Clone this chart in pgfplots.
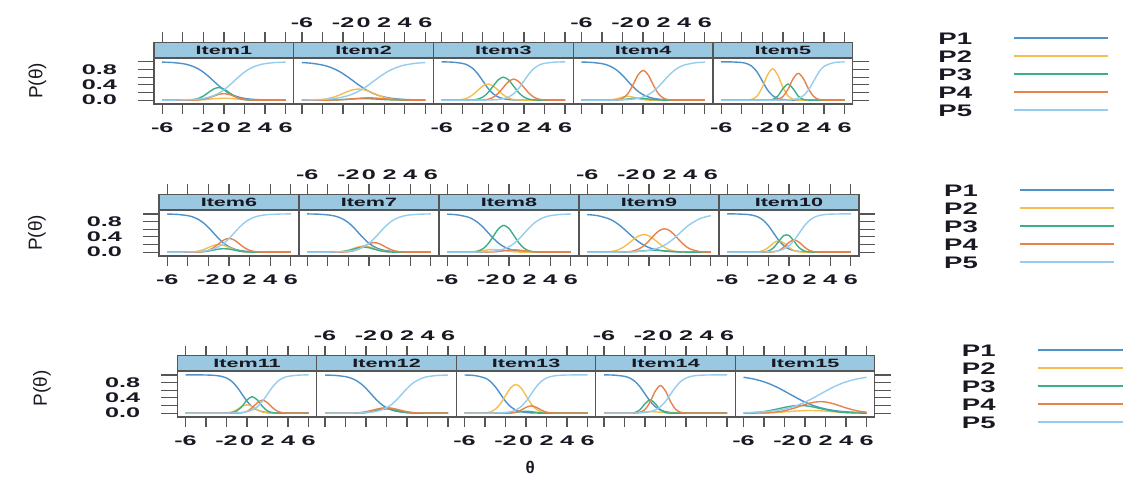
\documentclass[border=0pt]{standalone}
\usepackage{fontspec}
\setmainfont{Liberation Sans}
\usepackage{graphicx}
\usepackage{pgfplots}
\usepackage{pgfplotstable}
\pgfplotsset{compat=1.18}
\definecolor{c1}{RGB}{80,145,200}
\definecolor{c2}{RGB}{245,190,80}
\definecolor{c3}{RGB}{60,175,135}
\definecolor{c4}{RGB}{230,130,75}
\definecolor{c5}{RGB}{150,205,238}
\definecolor{stripcol}{RGB}{155,200,225}
\definecolor{axcol}{RGB}{85,85,85}
\definecolor{txtcol}{RGB}{25,25,35}
\newcommand\sx[1]{\scalebox{1.8}[1]{#1}}
\newcommand\lx[1]{\scalebox{1.65}[1]{#1}}
\newcommand\tfont{\fontsize{14}{15}\selectfont\bfseries}
\newcommand\sfont{\fontsize{12}{13}\selectfont\bfseries}
\newcommand\lfont{\fontsize{16.7}{18}\selectfont\bfseries}
\newcommand\yfont{\fontsize{19}{20}\selectfont}
\newcommand\xfont{\fontsize{17}{18}\selectfont\bfseries}

\pgfplotstableread{
t a b c d e
-6 0.993 0 0 0 0.001
-5 0.982 0 0 0 0.002
-4 0.953 0 0.001 0 0.007
-3.5 0.924 0.001 0.004 0.001 0.011
-3 0.881 0.003 0.015 0.002 0.018
-2.5 0.818 0.007 0.045 0.007 0.029
-2 0.731 0.014 0.107 0.023 0.047
-1.5 0.622 0.024 0.200 0.055 0.076
-1 0.5 0.036 0.291 0.103 0.119
-0.5 0.378 0.046 0.33 0.150 0.182
0 0.269 0.05 0.291 0.17 0.269
0.5 0.182 0.046 0.200 0.150 0.378
1 0.119 0.036 0.107 0.103 0.5
1.5 0.076 0.024 0.045 0.055 0.622
2 0.047 0.014 0.015 0.023 0.731
2.5 0.029 0.007 0.004 0.007 0.818
3 0.018 0.003 0.001 0.002 0.881
3.5 0.011 0.001 0 0.001 0.924
4 0.007 0 0 0 0.953
5 0.002 0 0 0 0.982
6 0.001 0 0 0 0.993
}\itA
\pgfplotstableread{
t a b c d e
-6 0.982 0 0 0 0.004
-5 0.961 0.003 0 0 0.008
-4 0.917 0.019 0.001 0.001 0.018
-3.5 0.881 0.039 0.003 0.002 0.027
-3 0.832 0.072 0.005 0.004 0.039
-2.5 0.769 0.119 0.010 0.008 0.057
-2 0.690 0.176 0.016 0.015 0.083
-1.5 0.599 0.232 0.024 0.025 0.119
-1 0.5 0.274 0.032 0.036 0.168
-0.5 0.401 0.29 0.038 0.048 0.231
0 0.310 0.274 0.04 0.057 0.310
0.5 0.231 0.232 0.038 0.06 0.401
1 0.168 0.176 0.032 0.057 0.5
1.5 0.119 0.119 0.024 0.048 0.599
2 0.083 0.072 0.016 0.036 0.690
2.5 0.057 0.039 0.010 0.025 0.769
3 0.039 0.019 0.005 0.015 0.832
3.5 0.027 0.008 0.003 0.008 0.881
4 0.018 0.003 0.001 0.004 0.917
5 0.008 0 0 0.001 0.961
6 0.004 0 0 0 0.982
}\itB
\pgfplotstableread{
t a b c d e
-6 1.0 0 0 0 0
-5 0.992 0.001 0 0 0
-4 0.961 0.018 0 0 0
-3.5 0.917 0.057 0.001 0 0
-3 0.832 0.137 0.007 0 0
-2.5 0.690 0.255 0.026 0.001 0
-2 0.5 0.370 0.081 0.006 0.002
-1.5 0.310 0.42 0.195 0.024 0.004
-1 0.168 0.370 0.364 0.074 0.008
-0.5 0.083 0.255 0.529 0.179 0.018
0 0.039 0.137 0.6 0.334 0.039
0.5 0.018 0.057 0.529 0.485 0.083
1 0.008 0.018 0.364 0.55 0.168
1.5 0.004 0.005 0.195 0.485 0.310
2 0.002 0.001 0.081 0.334 0.5
2.5 0 0 0.026 0.179 0.690
3 0 0 0.007 0.074 0.832
3.5 0 0 0.001 0.024 0.917
4 0 0 0 0.006 0.961
5 0 0 0 0 0.992
6 0 0 0 0 1.0
}\itC
\pgfplotstableread{
t a b c d e
-6 0.995 0 0 0 0
-5 0.985 0 0 0 0
-4 0.953 0 0 0 0.001
-3.5 0.917 0.003 0.001 0 0.001
-3 0.858 0.014 0.002 0.002 0.002
-2.5 0.769 0.041 0.007 0.010 0.004
-2 0.646 0.080 0.016 0.049 0.008
-1.5 0.5 0.10 0.030 0.165 0.015
-1 0.354 0.080 0.044 0.391 0.027
-0.5 0.231 0.041 0.05 0.656 0.047
0 0.142 0.014 0.044 0.78 0.083
0.5 0.083 0.003 0.030 0.656 0.142
1 0.047 0 0.016 0.391 0.231
1.5 0.027 0 0.007 0.165 0.354
2 0.015 0 0.002 0.049 0.5
2.5 0.008 0 0.001 0.010 0.646
3 0.004 0 0 0.002 0.769
3.5 0.002 0 0 0 0.858
4 0.001 0 0 0 0.917
5 0 0 0 0 0.973
6 0 0 0 0 0.992
}\itD
\pgfplotstableread{
t a b c d e
-6 1.0 0 0 0 0
-5 0.998 0 0 0 0
-4 0.982 0 0 0 0
-3.5 0.953 0.003 0 0 0
-3 0.881 0.024 0 0 0
-2.5 0.731 0.111 0 0 0
-2 0.5 0.337 0 0 0
-1.5 0.269 0.657 0.002 0 0
-1 0.119 0.82 0.018 0.003 0
-0.5 0.047 0.657 0.105 0.020 0
0 0.018 0.337 0.297 0.095 0.002
0.5 0.007 0.111 0.42 0.288 0.007
1 0.002 0.024 0.297 0.561 0.018
1.5 0 0.003 0.105 0.70 0.047
2 0 0 0.018 0.561 0.119
2.5 0 0 0.002 0.288 0.269
3 0 0 0 0.095 0.5
3.5 0 0 0 0.020 0.731
4 0 0 0 0.003 0.881
5 0 0 0 0 0.982
6 0 0 0 0 0.998
}\itE
\pgfplotstableread{
t a b c d e
-6 0.995 0 0 0 0
-5 0.985 0 0 0 0.001
-4 0.953 0.002 0 0 0.005
-3.5 0.917 0.009 0.001 0.001 0.008
-3 0.858 0.027 0.004 0.004 0.015
-2.5 0.769 0.065 0.012 0.016 0.027
-2 0.646 0.121 0.029 0.049 0.047
-1.5 0.5 0.176 0.055 0.117 0.083
-1 0.354 0.2 0.080 0.219 0.142
-0.5 0.231 0.176 0.09 0.318 0.231
0 0.142 0.121 0.080 0.36 0.354
0.5 0.083 0.065 0.055 0.318 0.5
1 0.047 0.027 0.029 0.219 0.646
1.5 0.027 0.009 0.012 0.117 0.769
2 0.015 0.002 0.004 0.049 0.858
2.5 0.008 0 0.001 0.016 0.917
3 0.004 0 0 0.004 0.953
3.5 0.002 0 0 0.001 0.973
4 0.001 0 0 0 0.985
5 0 0 0 0 0.995
6 0 0 0 0 0.999
}\itF
\pgfplotstableread{
t a b c d e
-6 0.998 0 0 0 0
-5 0.992 0 0 0 0
-4 0.973 0 0 0 0.002
-3.5 0.953 0.002 0.001 0 0.004
-3 0.917 0.007 0.006 0.001 0.008
-2.5 0.858 0.022 0.018 0.003 0.015
-2 0.769 0.052 0.042 0.011 0.027
-1.5 0.646 0.097 0.079 0.034 0.047
-1 0.5 0.141 0.115 0.081 0.083
-0.5 0.354 0.16 0.13 0.152 0.142
0 0.231 0.141 0.115 0.221 0.231
0.5 0.142 0.097 0.079 0.25 0.354
1 0.083 0.052 0.042 0.221 0.5
1.5 0.047 0.022 0.018 0.152 0.646
2 0.027 0.007 0.006 0.081 0.769
2.5 0.015 0.002 0.001 0.034 0.858
3 0.008 0 0 0.011 0.917
3.5 0.004 0 0 0.003 0.953
4 0.002 0 0 0 0.973
5 0 0 0 0 0.992
6 0 0 0 0 0.998
}\itG
\pgfplotstableread{
t a b c d e
-6 0.992 0 0 0 0
-5 0.973 0 0 0 0
-4 0.917 0.003 0.002 0 0.001
-3.5 0.858 0.009 0.008 0 0.002
-3 0.769 0.023 0.031 0 0.004
-2.5 0.646 0.042 0.095 0.001 0.008
-2 0.5 0.062 0.228 0.003 0.015
-1.5 0.354 0.07 0.425 0.008 0.027
-1 0.231 0.062 0.617 0.020 0.047
-0.5 0.142 0.042 0.70 0.036 0.083
0 0.083 0.023 0.617 0.053 0.142
0.5 0.047 0.009 0.425 0.06 0.231
1 0.027 0.003 0.228 0.053 0.354
1.5 0.015 0.001 0.095 0.036 0.5
2 0.008 0 0.031 0.020 0.646
2.5 0.004 0 0.008 0.008 0.769
3 0.002 0 0.002 0.003 0.858
3.5 0 0 0 0.001 0.917
4 0 0 0 0 0.953
5 0 0 0 0 0.985
6 0 0 0 0 0.995
}\itH
\pgfplotstableread{
t a b c d e
-6 0.982 0 0 0 0
-5 0.953 0.001 0 0 0
-4 0.881 0.009 0 0 0.001
-3.5 0.818 0.026 0 0 0.002
-3 0.731 0.062 0.001 0.001 0.002
-2.5 0.622 0.128 0.003 0.004 0.004
-2 0.5 0.224 0.007 0.012 0.007
-1.5 0.378 0.334 0.014 0.034 0.011
-1 0.269 0.425 0.024 0.082 0.018
-0.5 0.182 0.46 0.036 0.170 0.029
0 0.119 0.425 0.046 0.297 0.047
0.5 0.076 0.334 0.05 0.443 0.076
1 0.047 0.224 0.046 0.563 0.119
1.5 0.029 0.128 0.036 0.61 0.182
2 0.018 0.062 0.024 0.563 0.269
2.5 0.011 0.026 0.014 0.443 0.378
3 0.007 0.009 0.007 0.297 0.5
3.5 0.004 0.003 0.003 0.170 0.622
4 0.002 0.001 0.001 0.082 0.731
5 0.001 0 0 0.012 0.881
6 0 0 0 0.001 0.953
}\itI
\pgfplotstableread{
t a b c d e
-6 1.0 0 0 0 0
-5 0.996 0 0 0 0
-4 0.982 0 0 0 0
-3.5 0.961 0.001 0 0 0.001
-3 0.917 0.009 0.001 0 0.002
-2.5 0.832 0.041 0.005 0 0.004
-2 0.690 0.123 0.030 0.001 0.008
-1.5 0.5 0.240 0.115 0.009 0.018
-1 0.310 0.30 0.279 0.043 0.039
-0.5 0.168 0.240 0.435 0.132 0.083
0 0.083 0.123 0.435 0.256 0.168
0.5 0.039 0.041 0.279 0.32 0.310
1 0.018 0.009 0.115 0.256 0.5
1.5 0.008 0.001 0.030 0.132 0.690
2 0.004 0 0.005 0.043 0.832
2.5 0.002 0 0.001 0.009 0.917
3 0 0 0 0.001 0.961
3.5 0 0 0 0 0.982
4 0 0 0 0 0.992
5 0 0 0 0 0.998
6 0 0 0 0 1.0
}\itJ
\pgfplotstableread{
t a b c d e
-6 1.0 0 0 0 0
-5 1.0 0 0 0 0
-4 0.996 0 0 0 0
-3.5 0.992 0 0 0 0
-3 0.982 0 0 0 0
-2.5 0.961 0.001 0 0 0
-2 0.917 0.006 0.002 0 0.002
-1.5 0.832 0.030 0.012 0 0.004
-1 0.690 0.090 0.058 0.001 0.008
-0.5 0.5 0.176 0.177 0.010 0.018
0 0.310 0.22 0.344 0.046 0.039
0.5 0.168 0.176 0.43 0.140 0.083
1 0.083 0.090 0.344 0.272 0.168
1.5 0.039 0.030 0.177 0.34 0.310
2 0.018 0.006 0.058 0.272 0.5
2.5 0.008 0.001 0.012 0.140 0.690
3 0.004 0 0.002 0.046 0.832
3.5 0.002 0 0 0.010 0.917
4 0.001 0 0 0.001 0.961
5 0 0 0 0 0.992
6 0 0 0 0 1.0
}\itK
\pgfplotstableread{
t a b c d e
-6 0.995 0 0 0 0
-5 0.985 0 0 0 0
-4 0.953 0 0 0.001 0.001
-3.5 0.917 0 0 0.003 0.002
-3 0.858 0.002 0.001 0.008 0.004
-2.5 0.769 0.006 0.005 0.019 0.008
-2 0.646 0.019 0.015 0.039 0.015
-1.5 0.5 0.046 0.036 0.068 0.027
-1 0.354 0.085 0.067 0.102 0.047
-0.5 0.231 0.123 0.097 0.129 0.083
0 0.142 0.14 0.11 0.14 0.142
0.5 0.083 0.123 0.097 0.129 0.231
1 0.047 0.085 0.067 0.102 0.354
1.5 0.027 0.046 0.036 0.068 0.5
2 0.015 0.019 0.015 0.039 0.646
2.5 0.008 0.006 0.005 0.019 0.769
3 0.004 0.002 0.001 0.008 0.858
3.5 0.002 0 0 0.003 0.917
4 0.001 0 0 0.001 0.953
5 0 0 0 0 0.985
6 0 0 0 0 0.995
}\itL
\pgfplotstableread{
t a b c d e
-6 0.996 0 0 0 0
-5 0.982 0 0 0 0
-4 0.917 0.008 0 0 0.001
-3.5 0.832 0.033 0 0 0.002
-3 0.690 0.101 0 0 0.004
-2.5 0.5 0.244 0 0 0.008
-2 0.310 0.455 0.001 0 0.018
-1.5 0.168 0.662 0.007 0.006 0.039
-1 0.083 0.75 0.021 0.026 0.083
-0.5 0.039 0.662 0.040 0.078 0.168
0 0.018 0.455 0.05 0.152 0.310
0.5 0.008 0.244 0.040 0.19 0.5
1 0.004 0.101 0.021 0.152 0.690
1.5 0.002 0.033 0.007 0.078 0.832
2 0 0.008 0.001 0.026 0.917
2.5 0 0.002 0 0.006 0.961
3 0 0 0 0.001 0.982
3.5 0 0 0 0 0.992
4 0 0 0 0 0.996
5 0 0 0 0 0.999
6 0 0 0 0 1.0
}\itM
\pgfplotstableread{
t a b c d e
-6 1.0 0 0 0 0
-5 0.992 0 0 0 0
-4 0.961 0.002 0 0 0.001
-3.5 0.917 0.005 0.001 0 0.002
-3 0.832 0.013 0.015 0.003 0.004
-2.5 0.690 0.024 0.087 0.021 0.008
-2 0.5 0.035 0.247 0.097 0.018
-1.5 0.310 0.04 0.35 0.296 0.039
-1 0.168 0.035 0.247 0.577 0.083
-0.5 0.083 0.024 0.087 0.72 0.168
0 0.039 0.013 0.015 0.577 0.310
0.5 0.018 0.005 0.001 0.296 0.5
1 0.008 0.002 0 0.097 0.690
1.5 0.004 0 0 0.021 0.832
2 0.002 0 0 0.003 0.917
2.5 0 0 0 0 0.961
3 0 0 0 0 0.982
3.5 0 0 0 0 0.992
4 0 0 0 0 0.996
5 0 0 0 0 0.999
6 0 0 0 0 1.0
}\itN
\pgfplotstableread{
t a b c d e
-6 0.937 0 0.005 0 0.011
-5 0.891 0.002 0.016 0.002 0.020
-4 0.818 0.006 0.043 0.007 0.036
-3.5 0.769 0.009 0.065 0.013 0.047
-3 0.711 0.015 0.092 0.024 0.063
-2.5 0.646 0.023 0.121 0.041 0.083
-2 0.574 0.032 0.151 0.065 0.109
-1.5 0.5 0.042 0.176 0.098 0.142
-1 0.426 0.053 0.194 0.137 0.182
-0.5 0.354 0.062 0.2 0.182 0.231
0 0.289 0.068 0.194 0.227 0.289
0.5 0.231 0.07 0.176 0.265 0.354
1 0.182 0.068 0.151 0.291 0.426
1.5 0.142 0.062 0.121 0.30 0.5
2 0.109 0.053 0.092 0.291 0.574
2.5 0.083 0.042 0.065 0.265 0.646
3 0.063 0.032 0.043 0.227 0.711
3.5 0.047 0.023 0.027 0.182 0.769
4 0.036 0.015 0.016 0.137 0.818
5 0.020 0.006 0.005 0.065 0.891
6 0.011 0.002 0.001 0.024 0.937
}\itO

\pgfplotsset{
  panel/.style={scale only axis, height=61.5pt, xmin=-6.8, xmax=6.8, ymin=-0.1, ymax=1.505,
    anchor=south west, axis on top, clip=false,
    axis line style={draw=axcol, line width=1.3pt},
    xtick={-6,-4,-2,0,2,4,6},
    xticklabels={\sx{-6},,\sx{-2},\sx{0},\sx{2},\sx{4},\sx{6}},
    xtick pos=both, tick align=outside, major tick length=10pt,
    tick style={draw=axcol, line width=1.3pt},
    ytick=\empty,
    ticklabel style={font=\tfont, text=txtcol, inner sep=0pt},
    every axis plot/.append style={line width=1.4pt, smooth, mark=none}},
  lowlab/.style={xticklabel pos=lower, xticklabel style={yshift=-9pt}},
  uplab/.style={xticklabel pos=upper, xticklabel style={yshift=5pt}},
  firstp/.style={ytick={0,0.4,0.8}, yticklabels={\sx{0.0},\sx{0.4},\sx{0.8}},
    ytick pos=left, yticklabel style={anchor=east, xshift=-27pt},
    ylabel={P(θ)}, ylabel style={font=\yfont, text=txtcol, at={(axis description cs:#1)}, anchor=center}},
  lastp/.style={legend plot pos=right, legend cell align=left,
    legend style={at={(axis description cs:#1)}, anchor=north west, draw=none, fill=none,
      inner sep=0pt, row sep=6pt, column sep=41pt, font=\lfont, text=txtcol,
      nodes={inner sep=0pt, text height=12pt, text depth=0pt}},
    legend image code/.code={\draw[##1,line width=2pt] (0pt,0pt) -- (94pt,0pt);},
    legend entries={\lx{P1},\lx{P2},\lx{P3},\lx{P4},\lx{P5}}},
}
\newcommand\strip[1]{%
  \fill[stripcol] (axis cs:-6.8,1.1) rectangle (axis cs:6.8,1.505);
  \draw[axcol,line width=1.3pt] (axis cs:-6.8,1.1) -- (axis cs:6.8,1.1);
  \node[font=\sfont,text=txtcol,inner sep=0pt] at (axis cs:0,1.3025) {\scalebox{1.8}[1]{#1}};}
\newcommand\yticksL{\pgfplotsinvokeforeach{0,0.2,0.4,0.6,0.8,1}{\draw[axcol,line width=1.3pt] (axis cs:-6.8,##1) -- ([xshift=-16pt]axis cs:-6.8,##1);}}
\newcommand\yticksR{\pgfplotsinvokeforeach{0,0.2,0.4,0.6,0.8,1}{\draw[axcol,line width=1.3pt] (axis cs:6.8,##1) -- ([xshift=16pt]axis cs:6.8,##1);}}
\newcommand\curves[1]{%
  \addplot[c1] table[x=t,y=a]{#1};
  \addplot[c2] table[x=t,y=b]{#1};
  \addplot[c3] table[x=t,y=c]{#1};
  \addplot[c4] table[x=t,y=d]{#1};
  \addplot[c5] table[x=t,y=e]{#1};}

\begin{document}
\begin{tikzpicture}
\path[use as bounding box] (0,0) rectangle (1123pt,477pt);
% Row 1
\begin{axis}[panel, width=139.75pt, at={(154pt,373pt)}, lowlab, firstp={-0.834,0.374}]
\strip{Item1}\curves{\itA}\yticksL
\end{axis}
\begin{axis}[panel, width=139.75pt, at={(293.75pt,373pt)}, uplab]
\strip{Item2}\curves{\itB}
\end{axis}
\begin{axis}[panel, width=139.75pt, at={(433.5pt,373pt)}, lowlab]
\strip{Item3}\curves{\itC}
\end{axis}
\begin{axis}[panel, width=139.75pt, at={(573.25pt,373pt)}, uplab]
\strip{Item4}\curves{\itD}
\end{axis}
\begin{axis}[panel, width=139.75pt, at={(713pt,373pt)}, lowlab, lastp={1.612,1.17073}]
\strip{Item5}\curves{\itE}\yticksR
\end{axis}
% Row 2
\begin{axis}[panel, width=140pt, at={(159pt,221pt)}, lowlab, firstp={-0.871,0.374}]
\strip{Item6}\curves{\itF}\yticksL
\end{axis}
\begin{axis}[panel, width=140pt, at={(299pt,221pt)}, uplab]
\strip{Item7}\curves{\itG}
\end{axis}
\begin{axis}[panel, width=140pt, at={(439pt,221pt)}, lowlab]
\strip{Item8}\curves{\itH}
\end{axis}
\begin{axis}[panel, width=140pt, at={(579pt,221pt)}, uplab]
\strip{Item9}\curves{\itI}
\end{axis}
\begin{axis}[panel, width=140pt, at={(719pt,221pt)}, lowlab, lastp={1.607,1.17073}]
\strip{Item10}\curves{\itJ}\yticksR
\end{axis}
% Row 3
\begin{axis}[panel, width=139.5pt, at={(177.3pt,60pt)}, lowlab, firstp={-0.97,0.47}]
\strip{Item11}\curves{\itK}\yticksL
\end{axis}
\begin{axis}[panel, width=139.5pt, at={(316.8pt,60pt)}, uplab]
\strip{Item12}\curves{\itL}
\end{axis}
\begin{axis}[panel, width=139.5pt, at={(456.3pt,60pt)}, lowlab,
  xlabel={θ}, xlabel style={font=\xfont, text=txtcol, at={(axis description cs:0.53,-0.813)}, anchor=center}]
\strip{Item13}\curves{\itM}
\end{axis}
\begin{axis}[panel, width=139.5pt, at={(595.8pt,60pt)}, uplab]
\strip{Item14}\curves{\itN}
\end{axis}
\begin{axis}[panel, width=139.5pt, at={(735.3pt,60pt)}, lowlab, lastp={1.623,1.18699}]
\strip{Item15}\curves{\itO}\yticksR
\end{axis}
\end{tikzpicture}
\end{document}
